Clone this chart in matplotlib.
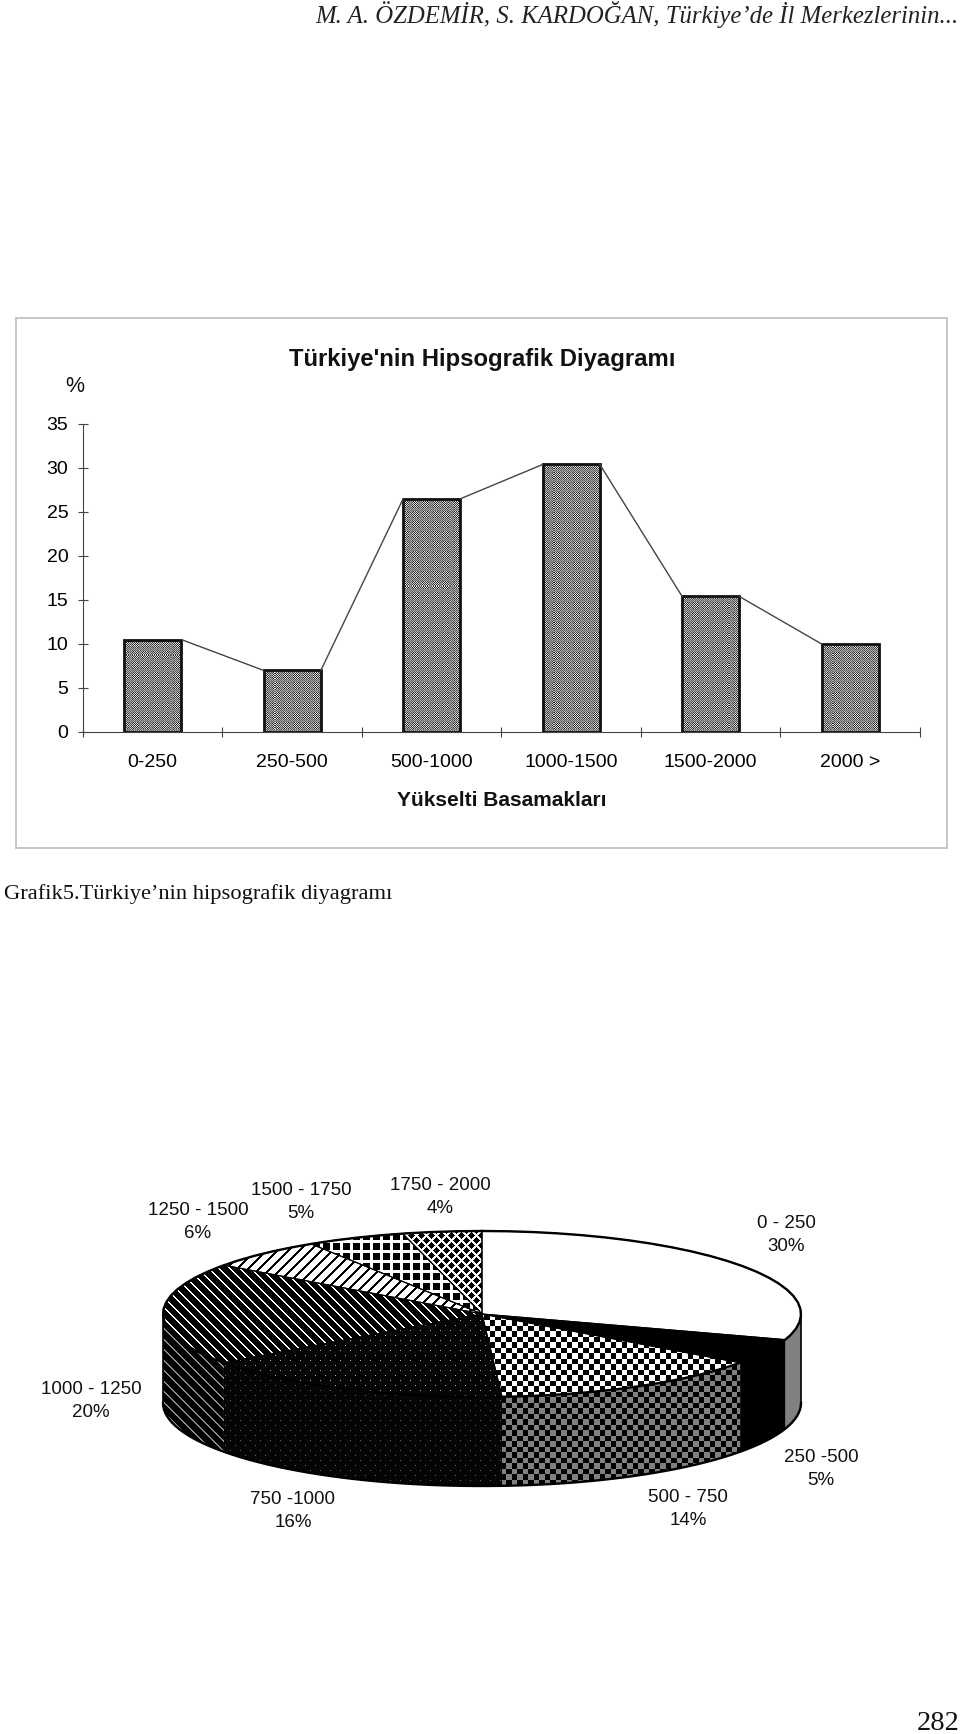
import numpy as np
import matplotlib
matplotlib.use('Agg')
import matplotlib.pyplot as plt
from matplotlib.patches import Polygon, Rectangle

# bar chart data
bar_labels = ['0-250', '250-500', '500-1000', '1000-1500', '1500-2000', '2000 >']
bar_values = [10.5, 7.0, 26.5, 30.4, 15.4, 10.0]
y_ticks = [0, 5, 10, 15, 20, 25, 30, 35]

# pie chart data, clockwise from 12 o'clock
pie_labels = ['0 - 250', '250 -500', '500 - 750', '750 -1000', '1000 - 1250',
              '1250 - 1500', '1500 - 1750', '1750 - 2000']
pie_values = [30, 5, 14, 16, 20, 6, 5, 4]

# where the two line pie labels sit, same order as above
pie_label_pos = [(786, 1235), (821, 1469), (688, 1509), (293, 1511), (91, 1401),
                 (198, 1222), (301, 1202), (440, 1197)]

W, H = 960, 1734
SANS = 'Liberation Sans'
SERIF = 'Liberation Serif'

# pie geometry in pixels
CX, CY, RX, RY, DEPTH = 482, 1314, 319, 83, 89

yy, xx = np.indices((H, W), dtype=float)


def checker(p, hi, lo):
    mask = (np.floor(xx / p) + np.floor(yy / p)) % 2 == 0
    return np.where(mask, hi, lo)


def stripes(coord, period, width, hi, lo):
    return np.where(coord % period < width, hi, lo)


def grid_tex():
    return np.where((xx % 10 < 2.2) | (yy % 10 < 2.2), 1.0, 0.0)


def diamond_tex():
    return np.where(((xx + yy) % 10 < 2.4) | ((xx - yy) % 10 < 2.4), 1.0, 0.0)


def dots_tex(level):
    a = (xx % 10 < 1) & (yy % 10 < 1)
    b = ((xx + 5) % 10 < 1) & ((yy + 5) % 10 < 1)
    return np.where(a | b, level, 0.02)


def bar_tex():
    # fine dither with rings, like the old spreadsheet fill
    dx = (xx % 10) - 5
    dy = (yy % 10) - 5
    r = np.hypot(dx, dy)
    amp = np.where(r < 4, 0.36, 0.12)
    return 0.52 + np.where((xx + yy) % 2 == 0, amp, -amp)


top_tex = [
    np.full((H, W), 1.0),
    np.full((H, W), 0.0),
    checker(5.5, 1.0, 0.0),
    dots_tex(0.7),
    stripes(xx - yy, 10.5, 2.0, 1.0, 0.0),
    stripes(xx + yy, 11, 7.5, 1.0, 0.0),
    grid_tex(),
    diamond_tex(),
]
side_tex = [
    np.full((H, W), 0.5),
    np.full((H, W), 0.0),
    checker(5.5, 0.5, 0.0),
    dots_tex(0.4),
    stripes(xx - yy, 10.5, 2.0, 0.55, 0.0),
]


def rim(a0, a1, dz=0):
    t = np.radians(np.linspace(a0, a1, 80))
    return np.column_stack((CX + RX * np.sin(t), CY - RY * np.cos(t) + dz))


def fill_tex(axis, tex, clip):
    im = axis.imshow(tex, cmap='gray', vmin=0, vmax=1, extent=(0, W, H, 0),
                     origin='upper', interpolation='nearest', aspect='auto')
    im.set_clip_path(clip)
    return im


fig = plt.figure(figsize=(W / 100, H / 100), dpi=100, facecolor='white')

# pixel canvas for everything that isn't the bar chart axes
pax = fig.add_axes([0, 0, 1, 1], zorder=0)
pax.axis('off')

# chart frame
pax.add_patch(Rectangle((16, 318), 931, 530, fill=False, edgecolor='#c6c6c6', lw=1.4))

# bar chart
ax = fig.add_axes([83 / W, 1 - 732 / H, 837 / W, 308 / H], zorder=1)
ax.patch.set_alpha(0)
x = np.arange(len(bar_values)) + 0.5
width = 0.41
bars = ax.bar(x, bar_values, width, facecolor='none', edgecolor='#111111', lw=2.0)
for b in bars:
    fill_tex(pax, bar_tex(), b)

for i in range(len(bar_values) - 1):
    ax.plot([x[i] + width / 2, x[i + 1] - width / 2], [bar_values[i], bar_values[i + 1]],
            color='#444444', lw=1.0)

ax.set_xlim(0, len(bar_values))
ax.set_ylim(0, 35)
ax.set_yticks(y_ticks)
ax.set_xticks(np.arange(len(bar_values) + 1))
ax.set_xticks(x, minor=True)
ax.set_xticklabels([])
ax.set_xticklabels(bar_labels, minor=True)
ax.tick_params(axis='x', which='major', direction='inout', length=7, width=0.8, color='#444444')
ax.tick_params(axis='x', which='minor', length=0, pad=16, labelsize=14, labelfontfamily=SANS)
ax.tick_params(axis='y', direction='inout', length=7, width=0.8, color='#444444',
               pad=7, labelsize=14, labelfontfamily=SANS)
for side in ['top', 'right']:
    ax.spines[side].set_visible(False)
for side in ['left', 'bottom']:
    ax.spines[side].set_color('#444444')
    ax.spines[side].set_linewidth(0.8)
ax.spines['bottom'].set_bounds(0, len(bar_values))

ax.set_title("Türkiye'nin Hipsografik Diyagramı", family=SANS, fontsize=17.2,
             fontweight='bold', x=(482 - 83) / 837, pad=41.5, color='#111111')
ax.set_xlabel('Yükselti Basamakları', family=SANS, fontsize=15, fontweight='bold',
              labelpad=14, color='#111111')
pax.text(75, 386, '%', family=SANS, fontsize=15.5, ha='center', va='center', color='#111111')

# page texts
pax.text(959, 15, 'M. A. ÖZDEMİR, S. KARDOĞAN, Türkiye’de İl Merkezlerinin...',
         family=SERIF, style='italic', fontsize=17.8, ha='right', va='center', color='#222222')
pax.text(4, 894, 'Grafik5.Türkiye’nin hipsografik diyagramı', family=SERIF, fontsize=16.2,
         ha='left', va='center', color='#111111')
pax.text(917, 1724, '282', family=SERIF, fontsize=20.5, ha='left', va='center', color='#111111')

# pie: walls first, only the front half shows
edges = np.cumsum([0] + pie_values) * 3.6
for i, tex in enumerate(side_tex):
    a0 = max(edges[i], 90)
    a1 = min(edges[i + 1], 270)
    if a1 <= a0:
        continue
    pts = np.vstack((rim(a0, a1), rim(a1, a0, DEPTH)))
    fill_tex(pax, tex, Polygon(pts, closed=True, transform=pax.transData))

# top slices
for i, tex in enumerate(top_tex):
    pts = np.vstack(([(CX, CY)], rim(edges[i], edges[i + 1])))
    poly = Polygon(pts, closed=True, transform=pax.transData)
    fill_tex(pax, tex, poly)
    pax.add_patch(Polygon(pts, closed=True, fill=False, edgecolor='black', lw=0.8))

# outlines
outer = rim(0, 360)
pax.plot(outer[:, 0], outer[:, 1], color='black', lw=1.7)
front = rim(90, 270, DEPTH)
pax.plot(front[:, 0], front[:, 1], color='black', lw=1.7)
for a in [90, 270]:
    p = rim(a, a)[0]
    pax.plot([p[0], p[0]], [p[1], p[1] + DEPTH], color='black', lw=1.2)

for name, val, (lx, ly) in zip(pie_labels, pie_values, pie_label_pos):
    pax.text(lx, ly, name + '\n' + str(val) + '%', family=SANS, fontsize=13.5,
             ha='center', va='center', linespacing=1.52, color='#111111')

pax.set_xlim(0, W)
pax.set_ylim(H, 0)

fig.savefig('out.png', dpi=100)
